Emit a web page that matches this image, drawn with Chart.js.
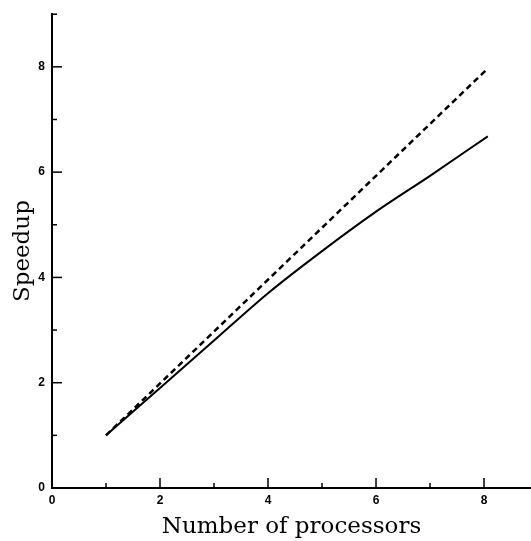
<!DOCTYPE html>
<html>
<head>
<meta charset="utf-8">
<script src="https://cdn.jsdelivr.net/npm/chart.js@4"></script>
<style>
  html, body { margin: 0; padding: 0; background: #fff; }
  #wrap { width: 531px; height: 541px; }
</style>
</head>
<body>
<div id="wrap"><canvas id="grafico"></canvas></div>
<script>
// valores
const procesadores = [1, 2, 3, 4, 5, 6, 7, 8.07];
const speedupMedido = [1, 1.9, 2.8, 3.7, 4.5, 5.25, 5.93, 6.68];
const procesadoresIdeal = [1, 8.07];
const speedupIdeal = [1, 7.97];
const xTicks = [0, 1, 2, 3, 4, 5, 6, 7, 8];
const xEtiquetas = [0, 2, 4, 6, 8];
const yTicks = [0, 1, 2, 3, 4, 5, 6, 7, 8, 9];
const yEtiquetas = [0, 2, 4, 6, 8];

const ctx = document.getElementById("grafico").getContext("2d");

const fuenteTicks = { family: "Liberation Sans", size: 12, weight: "bold" };
const fuenteTitulo = { family: "DejaVu Serif", size: 23 };

// marcas de eje hacia adentro, como en el original
const marcasInternas = {
    id: "marcasInternas",
    afterDraw(chart) {
        const { ctx, scales: { x, y } } = chart;
        ctx.save();
        ctx.strokeStyle = "#000";
        ctx.lineWidth = 1.5;
        xTicks.forEach(v => {
            if (v === 0) return;
            const px = x.getPixelForValue(v);
            const largo = v % 2 === 0 ? 10 : 5;
            ctx.beginPath();
            ctx.moveTo(px, y.bottom);
            ctx.lineTo(px, y.bottom - largo);
            ctx.stroke();
        });
        yTicks.forEach(v => {
            if (v === 0) return;
            const py = y.getPixelForValue(v);
            const largo = v % 2 === 0 ? 10 : 5;
            ctx.beginPath();
            ctx.moveTo(x.left, py);
            ctx.lineTo(x.left + largo, py);
            ctx.stroke();
        });
        ctx.restore();
    }
};

new Chart(ctx, {
    type: "line",
    data: {
        datasets: [
            {
                label: "Medido",
                data: procesadores.map((p, i) => ({ x: p, y: speedupMedido[i] })),
                borderColor: "#000",
                borderWidth: 2,
                pointRadius: 0,
                cubicInterpolationMode: "monotone",
                fill: false
            },
            {
                label: "Ideal",
                data: procesadoresIdeal.map((p, i) => ({ x: p, y: speedupIdeal[i] })),
                borderColor: "#000",
                borderWidth: 2.5,
                borderDash: [6, 4],
                pointRadius: 0,
                fill: false
            }
        ]
    },
    options: {
        responsive: true,
        maintainAspectRatio: false,
        animation: false,
        layout: { padding: { top: 10, right: 0, left: 0, bottom: 0 } },
        plugins: {
            legend: { display: false },
            tooltip: { enabled: false }
        },
        scales: {
            x: {
                type: "linear",
                min: 0,
                max: 8.87,
                afterBuildTicks: axis => { axis.ticks = xEtiquetas.map(v => ({ value: v })); },
                afterFit: axis => { axis.height = 53; },
                grid: { display: false, drawTicks: false },
                border: { color: "#000", width: 2 },
                ticks: { font: fuenteTicks, color: "#000", padding: 5, maxRotation: 0 },
                title: {
                    display: true,
                    text: "Number of processors",
                    font: fuenteTitulo,
                    color: "#000",
                    padding: { top: 0, bottom: 0 }
                }
            },
            y: {
                min: 0,
                max: 9,
                afterBuildTicks: axis => { axis.ticks = yEtiquetas.map(v => ({ value: v })); },
                afterFit: axis => { axis.width = 52; },
                grid: { display: false, drawTicks: false },
                border: { color: "#000", width: 2 },
                ticks: { font: fuenteTicks, color: "#000", padding: 7 },
                title: {
                    display: true,
                    text: "Speedup",
                    font: fuenteTitulo,
                    color: "#000",
                    padding: { top: 9, bottom: 0 }
                }
            }
        }
    },
    plugins: [marcasInternas]
});
</script>
</body>
</html>
